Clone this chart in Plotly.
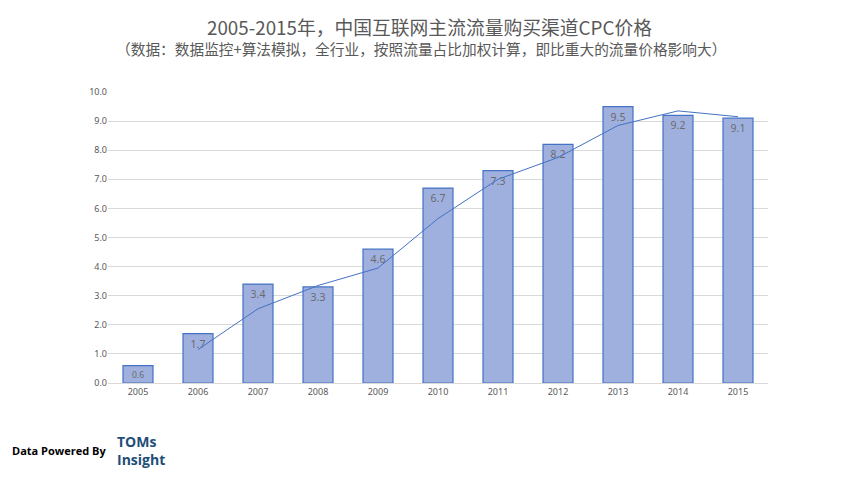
import plotly.graph_objects as go

years = ["2005", "2006", "2007", "2008", "2009", "2010", "2011", "2012", "2013", "2014", "2015"]
cpc = [0.6, 1.7, 3.4, 3.3, 4.6, 6.7, 7.3, 8.2, 9.5, 9.2, 9.1]
trend_years = ["2006", "2007", "2008", "2009", "2010", "2011", "2012", "2013", "2014", "2015"]
trend_vals = [1.15, 2.55, 3.35, 3.95, 5.65, 7.0, 7.75, 8.85, 9.35, 9.15]
y_ticks = [0, 1, 2, 3, 4, 5, 6, 7, 8, 9, 10]

title = "2005-2015年，中国互联网主流流量购买渠道CPC价格"
subtitle = "（数据：数据监控+算法模拟，全行业，按照流量占比加权计算，即比重大的流量价格影响大）"

# page has an 8px body margin; figure occupies 8..860
OFF = 8
L, R, T, B = 108 - OFF, 92, 92 - OFF, 97
PW, PH = 660, 291

def px(x):
    return (x - OFF - L) / PW

def py(y):
    return (T + PH - (y - OFF)) / PH

fig = go.Figure()
fig.add_trace(go.Bar(
    x=years, y=cpc,
    text=[f"{v:.1f}" for v in cpc],
    textposition="inside", insidetextanchor="end",
    textfont=dict(size=10.5, color="#6b6b6b", family="Noto Sans, sans-serif"),
    marker=dict(color="#9fb0de", line=dict(color="#4472c4", width=1.2)),
    width=0.5, showlegend=False, hoverinfo="skip",
))
fig.add_trace(go.Scatter(
    x=trend_years, y=trend_vals, mode="lines",
    line=dict(color="#4472c4", width=1), showlegend=False, hoverinfo="skip",
))

fig.update_layout(
    width=860 - OFF, height=480 - OFF,
    margin=dict(l=L, r=R, t=T, b=B),
    paper_bgcolor="white", plot_bgcolor="white",
    font=dict(family="Noto Sans, sans-serif", color="#595959"),
    xaxis=dict(type="category", showgrid=False, showline=True, linecolor="#d9d9d9",
               tickfont=dict(size=9, color="#595959"), ticks="", ticklen=0),
    yaxis=dict(range=[0, 10], tickvals=y_ticks, ticktext=[f"{v:.1f}" for v in y_ticks],
               showgrid=True, gridcolor="#d9d9d9", gridwidth=1, zeroline=False,
               tickfont=dict(size=9, color="#595959"), ticks="", ticklen=0),
)

fig.add_annotation(text=title, xref="paper", yref="paper", x=px(429), y=py(27),
                   xanchor="center", yanchor="middle", showarrow=False,
                   font=dict(size=18.8, color="#595959", family="Noto Sans CJK SC"))
fig.add_annotation(text=subtitle, xref="paper", yref="paper", x=px(421), y=py(48),
                   xanchor="center", yanchor="middle", showarrow=False,
                   font=dict(size=14.7, color="#595959", family="Noto Sans CJK SC"))
fig.add_annotation(text="<b>Data Powered By</b>", xref="paper", yref="paper", x=px(10), y=py(450),
                   xanchor="left", yanchor="middle", showarrow=False,
                   font=dict(size=11, color="#000000", family="Open Sans"))
fig.add_annotation(text="<b>TOMs<br>Insight</b>", xref="paper", yref="paper", x=px(115), y=py(450),
                   xanchor="left", yanchor="middle", align="left", showarrow=False,
                   font=dict(size=14, color="#1f4e79", family="Open Sans"))

fig.write_html("out.html")
